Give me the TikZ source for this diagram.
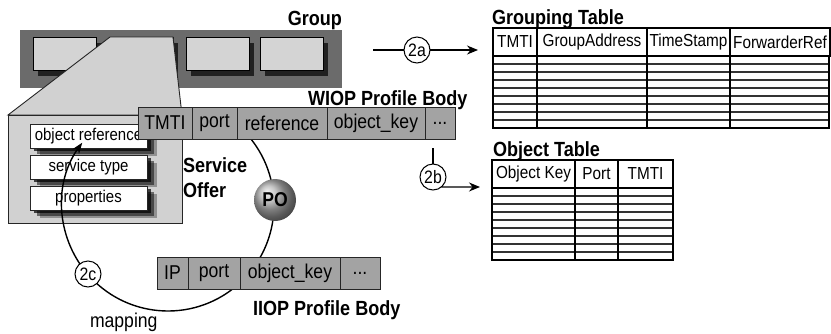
\documentclass[tikz,border=0pt]{standalone}
\usepackage{fontspec}
\setmainfont[FakeStretch=0.88]{Liberation Sans}
\usetikzlibrary{arrows.meta,shadows,calc}

\begin{document}
\begin{tikzpicture}[x=1pt,y=-1pt,
  every node/.style={inner sep=0pt, outer sep=0pt},
  txt/.style={font=\fontsize{20}{22}\selectfont},
  ttl/.style={font=\fontsize{20.5}{24}\selectfont\bfseries},
  cell/.style={draw=black!85, line width=1pt, fill=black!36, minimum height=32pt,
    anchor=west, text=black, font=\fontsize{20}{22}\selectfont},
  gbox/.style={draw=black, line width=0.9pt, fill=black!17, minimum width=63pt,
    minimum height=33pt, anchor=north west,
    drop shadow={shadow xshift=5pt, shadow yshift=-6pt, fill=black!90, opacity=0.9}},
  callout/.style={draw=black!85, line width=0.9pt, fill=black!18},
  wbox/.style={draw=black!85, line width=0.9pt, fill=white, minimum width=117pt,
    minimum height=24pt, anchor=north west, font=\fontsize{17}{19}\selectfont,
    drop shadow={shadow xshift=10pt, shadow yshift=-8pt, fill=black, opacity=0.3},
    drop shadow={shadow xshift=7pt, shadow yshift=-6pt, fill=black, opacity=0.5},
    drop shadow={shadow xshift=4pt, shadow yshift=-3pt, fill=black, opacity=0.7}},
  num/.style={circle, draw=black, line width=1pt, fill=white, minimum size=26pt,
    font=\fontsize{18}{20}\selectfont},
  conn/.style={draw=black, line width=1.2pt},
  tip/.style={-{Stealth[length=11pt,width=9pt]}},
  hcell/.style={draw=black, line width=1.5pt, minimum height=28pt, anchor=north west,
    font=\fontsize{17.4}{19}\selectfont},
  frame/.style={draw=black, line width=1.5pt},
  rowline/.style={draw=black!80, line width=1.1pt}
]
\useasboundingbox (0,0) rectangle (831,333);

% group of members
\node[fill=black!58, minimum width=322pt, minimum height=58pt, anchor=north west] (grp) at (20,30) {};
\node[gbox] (m1) at (33,37) {};
\node[gbox] (m2) at (110,37) {};
\node[gbox] (m3) at (186,37) {};
\node[gbox] (m4) at (260,37) {};
\node[ttl, anchor=base east] (grplabel) at (342,25) {Group};

% callout from the second member to the service offer
\draw[callout] (m2.north west) -- (m2.north east) -- (182,115) -- (8,115) -- cycle;
\node[callout, minimum width=174pt, minimum height=108pt, anchor=north west] (panel) at (8,115) {};
\node[wbox] (objref) at (30,124) {object reference};
\node[wbox] (stype) at (30,155) {service type};
\node[wbox] (props) at (30,186) {properties};
\node[ttl, anchor=base west] (svc) at (183,172) {Service};
\node[ttl, anchor=base west] (offer) at (183,197) {Offer};

% mapping circle
\coordinate (ctr) at (168,205);
\draw[conn, line width=1.4pt, -{Stealth[length=11pt,width=8pt]}]
  ($(ctr)+(-40:106)$) arc[start angle=-40, end angle=216, radius=106];

% WIOP profile body
\node[cell, minimum width=54pt] (wtmti) at (138,123) {TMTI};
\node[cell, minimum width=45pt] (wport) at (wtmti.east) {port};
\node[cell, minimum width=90pt] (wref) at (wport.east) {reference};
\node[cell, minimum width=98pt] (wkey) at (wref.east) {object\_key};
\node[cell, minimum width=30pt] (wdots) at (wkey.east) {...};
\node[ttl, anchor=base west] (wiopl) at (308,105) {WIOP Profile Body};

% IIOP profile body
\node[cell, minimum width=31pt] (iip) at (157,273) {IP};
\node[cell, minimum width=52pt] (iport) at (iip.east) {port};
\node[cell, minimum width=100pt] (ikey) at (iport.east) {object\_key};
\node[cell, minimum width=40pt] (idots) at (ikey.east) {...};
\node[ttl, anchor=base west] (iiopl) at (253,315) {IIOP Profile Body};

% profile object
\node[circle, ball color=black!30, minimum size=42pt, text=black,
  font=\fontsize{20}{22}\selectfont\bfseries] (po) at (275,200) {PO};

% step 2c
\node[num] (c2c) at (88,274) {2c};
\node[txt, anchor=base west] (mapl) at (90,327) {mapping};

% step 2a
\coordinate (a2from) at (373,50);
\coordinate (a2to) at (478,50);
\node[num] (c2a) at (417,50) {2a};
\draw[conn] (a2from) -- (c2a);
\draw[conn, tip] (c2a) -- (a2to);

% step 2b
\coordinate (b2from) at (433,148);
\node[num] (c2b) at (433,177) {2b};
\coordinate (b2to) at (480,187);
\draw[conn] (b2from) -- (c2b);
\draw[conn, tip] (c2b.-50) -- (b2to);

% grouping table
\node[ttl, anchor=base west] (gtitle) at (492,24) {Grouping Table};
\node[hcell, minimum width=44pt] (g1) at (493,28) {TMTI};
\node[hcell, minimum width=110pt, anchor=north west] (g2) at (g1.north east) {GroupAddress};
\node[hcell, minimum width=83pt, anchor=north west] (g3) at (g2.north east) {TimeStamp};
\node[hcell, minimum width=100pt, anchor=north west] (g4) at (g3.north east) {ForwarderRef};
\foreach \yy in {64,72,...,120} \draw[rowline] (493,\yy) -- (829,\yy);
\draw[frame] (493,56) rectangle (829,128);
\foreach \xx in {537,647,730} \draw[frame] (\xx,56) -- (\xx,128);

% object table
\node[ttl, anchor=base west] (otitle) at (493,156) {Object Table};
\node[hcell, minimum width=83pt] (o1) at (492,160) {Object Key};
\node[hcell, minimum width=43pt, anchor=north west] (o2) at (o1.north east) {Port};
\node[hcell, minimum width=55pt, anchor=north west] (o3) at (o2.north east) {TMTI};
\foreach \yy in {196,204,...,252} \draw[rowline] (492,\yy) -- (673,\yy);
\draw[frame] (492,188) rectangle (673,260);
\foreach \xx in {575,618} \draw[frame] (\xx,188) -- (\xx,260);
\end{tikzpicture}
\end{document}
